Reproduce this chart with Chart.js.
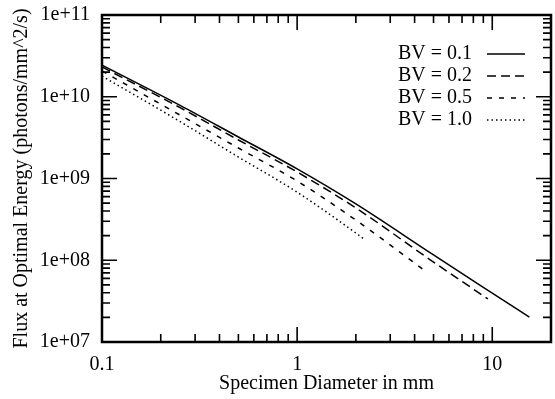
<!DOCTYPE html>
<html>
<head>
<meta charset="utf-8">
<script src="https://cdn.jsdelivr.net/npm/chart.js@4.4.1/dist/chart.umd.min.js"></script>
<style>
  html, body { margin: 0; padding: 0; background: #fff; }
</style>
</head>
<body>
<canvas id="fluxChart" width="555" height="399"></canvas>
<script>
// series (diameter in mm, flux in photons/mm^2/s)
const seriesLabels = ['BV = 0.1', 'BV = 0.2', 'BV = 0.5', 'BV = 1.0'];

const diamBV01 = [0.1, 0.25, 0.5, 1, 2, 5, 10, 15.5];
const fluxBV01 = [2.44e10, 7.9e9, 3.22e9, 1.31e9, 4.88e8, 1.16e8, 3.97e7, 2.02e7];

const diamBV02 = [0.1, 0.25, 0.5, 1, 2, 5, 9.5];
const fluxBV02 = [2.31e10, 7.4e9, 2.96e9, 1.2e9, 4.36e8, 9.5e7, 3.36e7];

const diamBV05 = [0.1, 0.25, 0.5, 1, 2, 4.4];
const fluxBV05 = [2.07e10, 6.0e9, 2.36e9, 9.3e8, 3.1e8, 7.8e7];

const diamBV10 = [0.1, 0.25, 0.5, 1, 2, 2.23];
const fluxBV10 = [1.79e10, 5.0e9, 1.83e9, 6.8e8, 2.15e8, 1.77e8];

// axis ticks
const xTicks = [0.1, 1, 10];
const yTicks = [1e7, 1e8, 1e9, 1e10, 1e11];
const xMin = 0.1, xMax = 20;
const yMin = 1e7, yMax = 1e11;

const dashes = [[], [9, 5], [5, 7], [1.5, 3]];
const serif = 'Liberation Serif';

function toPoints(xs, ys) {
  return xs.map((x, i) => ({ x: x, y: ys[i] }));
}

const allX = [diamBV01, diamBV02, diamBV05, diamBV10];
const allY = [fluxBV01, fluxBV02, fluxBV05, fluxBV10];

const datasets = seriesLabels.map((label, i) => ({
  label: label,
  data: toPoints(allX[i], allY[i]),
  borderColor: '#000',
  borderWidth: 1.5,
  borderDash: dashes[i],
  pointRadius: 0,
  fill: false,
  cubicInterpolationMode: 'monotone'
}));

// inward tick marks on all four sides + the frame
function minorValues(majors, max) {
  const out = [];
  majors.forEach(d => {
    for (let m = 2; m <= 9; m++) {
      const v = m * d;
      if (v < max * 0.999) out.push(v);
    }
  });
  return out;
}

const frameTicks = {
  id: 'frameTicks',
  afterDatasetsDraw(chart) {
    const { ctx, chartArea: a, scales: { x, y } } = chart;
    ctx.save();
    ctx.strokeStyle = '#000';
    ctx.lineWidth = 1.6;
    const xMinor = minorValues(xTicks, xMax);
    const yMinor = minorValues(yTicks.slice(0, -1), yMax);
    ctx.beginPath();
    const xMarks = xTicks.map(v => [v, 15]).concat(xMinor.map(v => [v, 8]));
    xMarks.forEach(([v, len]) => {
      const px = x.getPixelForValue(v);
      ctx.moveTo(px, a.bottom); ctx.lineTo(px, a.bottom - len);
      ctx.moveTo(px, a.top); ctx.lineTo(px, a.top + len);
    });
    const yMarks = yTicks.map(v => [v, 15]).concat(yMinor.map(v => [v, 8]));
    yMarks.forEach(([v, len]) => {
      const py = y.getPixelForValue(v);
      ctx.moveTo(a.left, py); ctx.lineTo(a.left + len, py);
      ctx.moveTo(a.right, py); ctx.lineTo(a.right - len, py);
    });
    ctx.stroke();
    ctx.lineWidth = 2.5;
    ctx.strokeRect(a.left, a.top, a.right - a.left, a.bottom - a.top);
    ctx.restore();
  }
};

// legend inside the plot: label text then a line sample on its right
const insideLegend = {
  id: 'insideLegend',
  afterDatasetsDraw(chart) {
    const { ctx } = chart;
    ctx.save();
    ctx.font = '20px "' + serif + '"';
    ctx.fillStyle = '#000';
    ctx.textAlign = 'right';
    ctx.textBaseline = 'middle';
    chart.data.datasets.forEach((ds, i) => {
      const rowY = 54 + i * 22;
      ctx.fillText(ds.label, 472, rowY);
      ctx.beginPath();
      ctx.setLineDash(ds.borderDash);
      ctx.lineWidth = ds.borderWidth;
      ctx.strokeStyle = ds.borderColor;
      ctx.moveTo(487, rowY);
      ctx.lineTo(525, rowY);
      ctx.stroke();
    });
    ctx.restore();
  }
};

new Chart(document.getElementById('fluxChart'), {
  type: 'line',
  data: { datasets },
  plugins: [frameTicks, insideLegend],
  options: {
    responsive: false,
    animation: false,
    layout: { padding: { top: 15, right: 4, left: 6, bottom: 0 } },
    plugins: {
      legend: { display: false },
      tooltip: { enabled: false }
    },
    scales: {
      x: {
        type: 'logarithmic',
        position: 'bottom',
        min: xMin,
        max: xMax,
        grid: { display: false, drawTicks: false },
        border: { display: false },
        afterBuildTicks: s => { s.ticks = xTicks.map(v => ({ value: v })); },
        afterFit: s => { s.height = 57; s.paddingRight = 0; },
        ticks: {
          color: '#000',
          font: { family: serif, size: 20 },
          padding: 11,
          autoSkip: false,
          maxRotation: 0,
          callback: v => String(v)
        },
        title: {
          display: true,
          text: 'Specimen Diameter in mm',
          color: '#000',
          font: { family: serif, size: 20 },
          padding: { top: 0, bottom: 3 }
        }
      },
      y: {
        type: 'logarithmic',
        min: yMin,
        max: yMax,
        grid: { display: false, drawTicks: false },
        border: { display: false },
        afterBuildTicks: s => { s.ticks = yTicks.map(v => ({ value: v })); },
        afterFit: s => { s.width = 96; s.paddingTop = 0; s.paddingBottom = 0; },
        ticks: {
          color: '#000',
          font: { family: serif, size: 20 },
          padding: 12,
          autoSkip: false,
          callback: v => '1e+' + String(Math.round(Math.log10(v))).padStart(2, '0')
        },
        title: {
          display: true,
          text: 'Flux at Optimal Energy (photons/mm^2/s)',
          color: '#000',
          font: { family: serif, size: 20 },
          padding: { top: 4, bottom: 0 }
        }
      }
    }
  }
});
</script>
</body>
</html>
